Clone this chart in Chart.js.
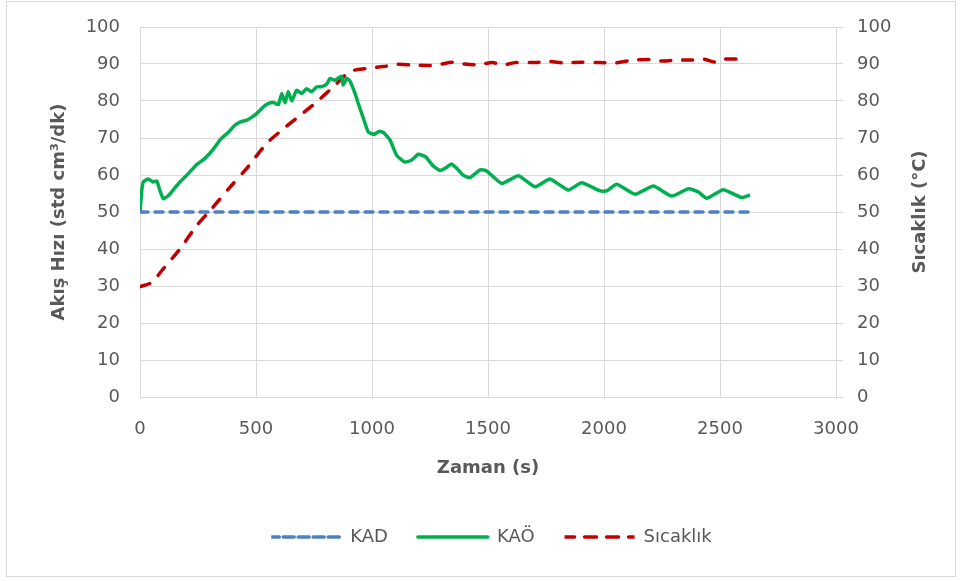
<!DOCTYPE html>
<html>
<head>
<meta charset="utf-8">
<script src="https://cdn.jsdelivr.net/npm/chart.js@4.4.1/dist/chart.umd.min.js"></script>
<style>
  html, body { margin: 0; padding: 0; background: #fff; }
  #wrap { width: 963px; height: 581px; position: relative; }
</style>
</head>
<body>
<div id="wrap"><canvas id="chart" width="963" height="581"></canvas></div>
<script>
// Veriler
const kadTimes = [0, 2630];
const kadValues = [50, 50];

const kaoTimes = [0, 8, 15, 36, 57, 72, 86, 100, 122, 150, 172, 210, 244, 280, 316, 345, 380, 410, 431, 460,
  474, 503, 532, 552, 575, 596, 611, 625, 639, 654, 675, 697, 718, 740, 761, 783, 805, 819, 840, 869,
  876, 891, 905, 927, 941, 963, 984, 1010, 1030, 1049, 1078, 1106, 1142, 1170, 1200, 1230, 1263, 1293, 1320, 1343,
  1370, 1394, 1422, 1466, 1494, 1559, 1631, 1703, 1767, 1846, 1903, 1983, 2011, 2055, 2134, 2213, 2292, 2364, 2407, 2443,
  2514, 2593, 2629];
const kaoValues = [50, 56, 58.2, 58.9, 58.1, 58.4, 55.8, 53.6, 54.4, 56.5, 58.1, 60.5, 62.8, 64.5, 67, 69.5, 71.5, 73.5, 74.3, 74.8,
  75.3, 76.6, 78.4, 79.3, 79.6, 79.0, 82.0, 79.5, 82.5, 80.0, 82.9, 82.0, 83.3, 82.5, 83.8, 83.9, 84.6, 86.1, 85.6, 86.7,
  84.3, 86.1, 85.4, 82.0, 79.3, 75.3, 71.6, 71.0, 71.8, 71.5, 69.4, 65.3, 63.5, 64.0, 65.6, 65.0, 62.5, 61.2, 62.0, 63.0,
  61.5, 59.9, 59.3, 61.4, 61.1, 57.7, 59.8, 56.8, 58.9, 55.9, 57.9, 55.7, 55.7, 57.5, 54.8, 57.0, 54.3, 56.3, 55.4, 53.7,
  56.0, 53.9, 54.6];

const sicTimes = [0, 50, 100, 172, 244, 302, 388, 460, 546, 618, 690, 762, 833, 905, 977, 1050, 1106, 1180, 1250, 1300,
  1350, 1400, 1460, 1520, 1560, 1620, 1700, 1760, 1830, 1900, 1980, 2050, 2120, 2200, 2250, 2300, 2380, 2430, 2480, 2520,
  2586];
const sicValues = [29.8, 31, 34.6, 40, 46.3, 50.4, 56.7, 61.8, 68.5, 72.5, 76.1, 79.8, 83.8, 87.9, 88.8, 89.3, 89.9, 89.7, 89.6, 90.0,
  90.5, 90.0, 89.8, 90.4, 89.7, 90.4, 90.4, 90.7, 90.3, 90.5, 90.4, 90.3, 91.0, 91.2, 90.8, 91.0, 91.1, 91.3, 90.5, 91.3,
  91.3];

const xTicks = [0, 500, 1000, 1500, 2000, 2500, 3000];
const rightTitle = 'Sıcaklık (°C)';

function toPoints(xs, ys) {
  return xs.map((x, i) => ({ x: x, y: ys[i] }));
}

const textColor = '#595959';
const gridColor = '#d9d9d9';
const fontFamily = '"DejaVu Sans", sans-serif';

// Dış çerçeve
const framePlugin = {
  id: 'frame',
  beforeDraw(chart) {
    const ctx = chart.ctx;
    ctx.save();
    ctx.fillStyle = '#fff';
    ctx.fillRect(0, 0, chart.width, chart.height);
    ctx.strokeStyle = gridColor;
    ctx.lineWidth = 1;
    ctx.strokeRect(6.5, 1.5, 949, 575);
    ctx.restore();
  }
};

// Sağ eksen başlığı aşağıdan yukarıya okunur (Excel gibi)
const rightTitlePlugin = {
  id: 'rightTitle',
  afterDraw(chart) {
    const ctx = chart.ctx;
    const area = chart.chartArea;
    ctx.save();
    ctx.translate(920, (area.top + area.bottom) / 2);
    ctx.rotate(-Math.PI / 2);
    ctx.font = 'bold 18px ' + fontFamily;
    ctx.fillStyle = textColor;
    ctx.textAlign = 'center';
    ctx.textBaseline = 'middle';
    ctx.fillText(rightTitle, 0, 0);
    ctx.restore();
  }
};

new Chart(document.getElementById('chart'), {
  type: 'line',
  data: {
    datasets: [
      {
        label: 'KAD',
        data: toPoints(kadTimes, kadValues),
        borderColor: '#4f7fc4',
        backgroundColor: '#4f7fc4',
        borderWidth: 3.5,
        borderDash: [8, 7],
        borderCapStyle: 'round',
        pointRadius: 0,
        yAxisID: 'y'
      },
      {
        label: 'KAÖ',
        data: toPoints(kaoTimes, kaoValues),
        borderColor: '#00b050',
        backgroundColor: '#00b050',
        borderWidth: 3.5,
        borderJoinStyle: 'round',
        pointRadius: 0,
        tension: 0.15,
        yAxisID: 'y'
      },
      {
        label: 'Sıcaklık',
        data: toPoints(sicTimes, sicValues),
        borderColor: '#c00000',
        backgroundColor: '#c00000',
        borderWidth: 3.5,
        borderDash: [10, 12],
        borderCapStyle: 'round',
        pointRadius: 0,
        tension: 0.3,
        yAxisID: 'y1'
      }
    ]
  },
  options: {
    responsive: false,
    animation: false,
    layout: { padding: { top: 27, left: 20, right: 0, bottom: 25 } },
    plugins: {
      tooltip: { enabled: false },
      legend: {
        position: 'bottom',
        labels: {
          color: textColor,
          font: { family: fontFamily, size: 18 },
          boxWidth: 70,
          boxHeight: 0,
          padding: 30
        }
      }
    },
    scales: {
      x: {
        type: 'linear',
        min: 0,
        max: 3000,
        afterBuildTicks(scale) {
          scale.ticks = xTicks.map(v => ({ value: v }));
        },
        afterFit(scale) { scale.height = 101; },
        grid: { color: gridColor, drawTicks: false },
        border: { color: gridColor },
        ticks: {
          color: textColor,
          font: { family: fontFamily, size: 18 },
          padding: 22,
          maxRotation: 0,
          callback: v => String(v)
        },
        title: {
          display: true,
          text: 'Zaman (s)',
          color: textColor,
          font: { family: fontFamily, size: 18, weight: 'bold' },
          padding: { top: 0, bottom: 19 }
        }
      },
      y: {
        position: 'left',
        min: 0,
        max: 100,
        ticks: { stepSize: 10, color: textColor, font: { family: fontFamily, size: 18 }, padding: 20 },
        afterFit(scale) { scale.width = 120; scale.paddingTop = 0; },
        grid: { color: gridColor, drawTicks: false },
        border: { display: false },
        title: {
          display: true,
          text: 'Akış Hızı (std cm³/dk)',
          color: textColor,
          font: { family: fontFamily, size: 18, weight: 'bold' },
          padding: { top: 29, bottom: 0 }
        }
      },
      y1: {
        position: 'right',
        min: 0,
        max: 100,
        ticks: { stepSize: 10, color: textColor, font: { family: fontFamily, size: 18 }, padding: 14 },
        afterFit(scale) { scale.width = 127; scale.paddingTop = 0; },
        grid: { drawOnChartArea: false, color: gridColor, tickLength: 7 },
        border: { color: gridColor },
        title: { display: false }
      }
    }
  },
  plugins: [framePlugin, rightTitlePlugin]
});
</script>
</body>
</html>
